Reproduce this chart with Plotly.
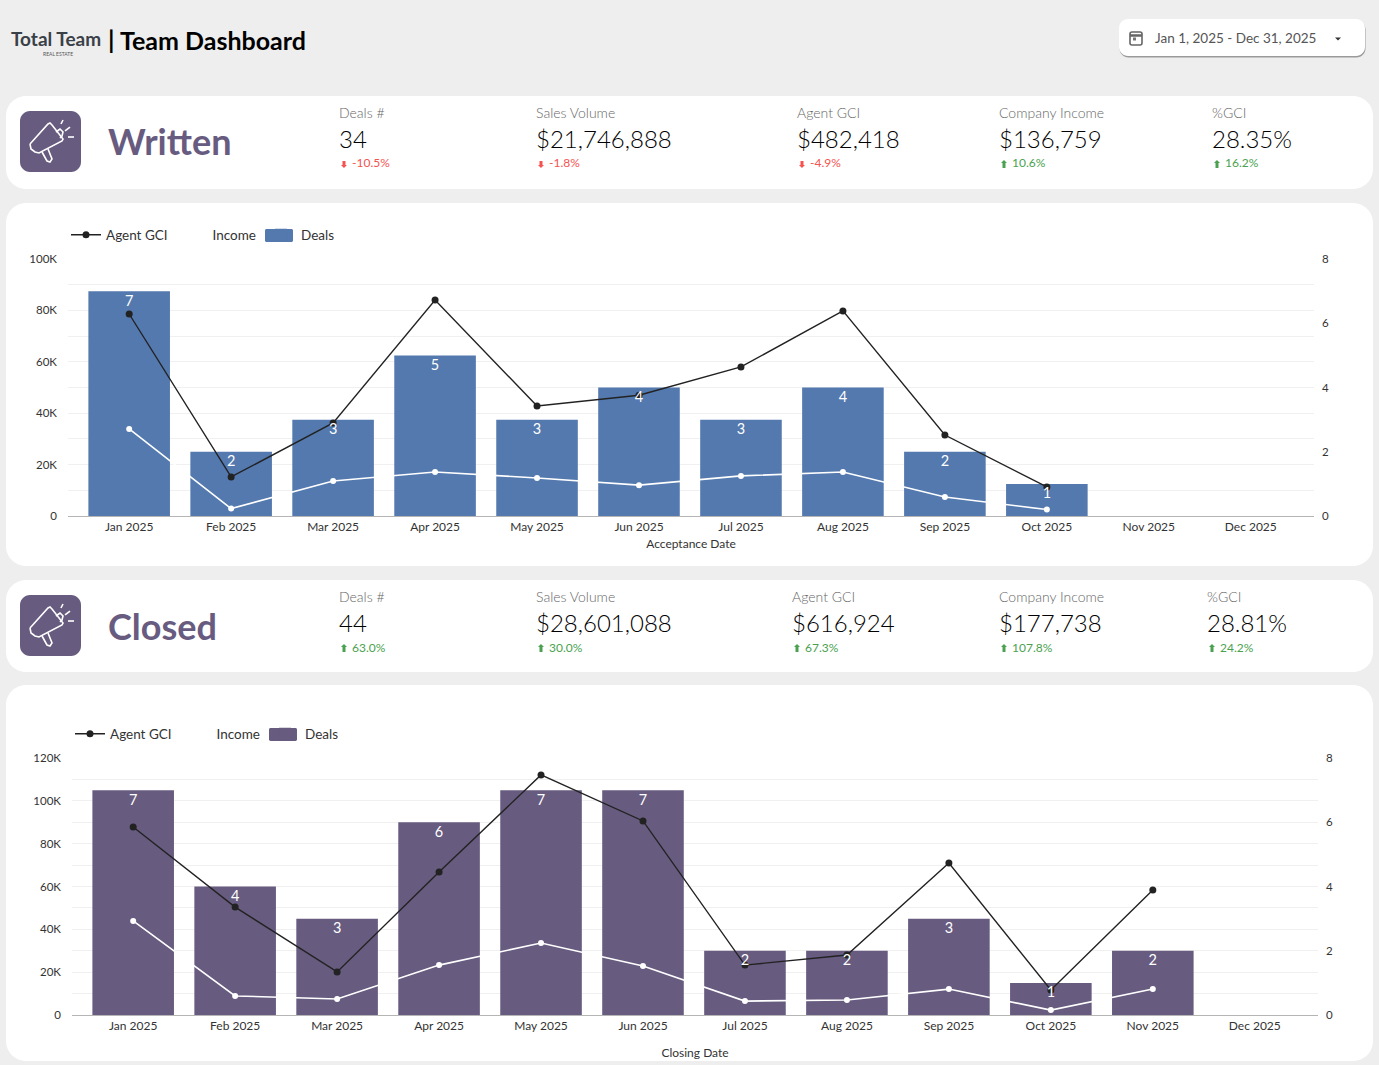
import plotly.graph_objects as go

W, H = 1379, 1065
FONT = "Lato"
BG = "#eeeeee"
PURPLE = "#675b7f"
BLUE = "#5379ae"
DARK = "#222222"

months = ["Jan 2025", "Feb 2025", "Mar 2025", "Apr 2025", "May 2025", "Jun 2025",
          "Jul 2025", "Aug 2025", "Sep 2025", "Oct 2025", "Nov 2025", "Dec 2025"]

written_deals = [7, 2, 3, 5, 3, 4, 3, 4, 2, 1, None, None]
written_gci = [78600, 15200, 36200, 84000, 42800, 47000, 58000, 79800, 31500, 11300, None, None]
written_income = [33900, 2900, 13600, 17100, 14800, 12000, 15600, 17100, 7400, 2500, None, None]

closed_deals = [7, 4, 3, 6, 7, 7, 2, 2, 3, 1, 2, None]
closed_gci = [87800, 50400, 20100, 66800, 112100, 90600, 23300, 28000, 71000, 11700, 58400, None]
closed_income = [43900, 8900, 7500, 23300, 33600, 22900, 6500, 7000, 12100, 2300, 12100, None]

written_ticks = [0, 20000, 40000, 60000, 80000, 100000]
written_ticktext = ["0", "20K", "40K", "60K", "80K", "100K"]
closed_ticks = [0, 20000, 40000, 60000, 80000, 100000, 120000]
closed_ticktext = ["0", "20K", "40K", "60K", "80K", "100K", "120K"]

kpi_labels = ["Deals #", "Sales Volume", "Agent GCI", "Company Income", "%GCI"]
written_kpis = ["34", "$21,746,888", "$482,418", "$136,759", "28.35%"]
written_deltas = ["-10.5%", "-1.8%", "-4.9%", "10.6%", "16.2%"]
closed_kpis = ["44", "$28,601,088", "$616,924", "$177,738", "28.81%"]
closed_deltas = ["63.0%", "30.0%", "67.3%", "107.8%", "24.2%"]


def fx(px):
    return px / W


def fy(py):
    return 1 - py / H


def path(points, close=False):
    s = "M" + " L".join(f"{fx(x):.5f},{fy(y):.5f}" for x, y in points)
    return s + (" Z" if close else "")


def rrect(x0, y0, x1, y1, r):
    k = 0.45 * r
    p = lambda x, y: f"{fx(x):.5f},{fy(y):.5f}"
    return (f"M{p(x0 + r, y0)} L{p(x1 - r, y0)} C{p(x1 - k, y0)} {p(x1, y0 + k)} {p(x1, y0 + r)} "
            f"L{p(x1, y1 - r)} C{p(x1, y1 - k)} {p(x1 - k, y1)} {p(x1 - r, y1)} "
            f"L{p(x0 + r, y1)} C{p(x0 + k, y1)} {p(x0, y1 - k)} {p(x0, y1 - r)} "
            f"L{p(x0, y0 + r)} C{p(x0, y0 + k)} {p(x0 + k, y0)} {p(x0 + r, y0)} Z")


shapes, annotations = [], []


def card(x0, y0, x1, y1, r=20, fill="white"):
    shapes.append(dict(type="path", path=rrect(x0, y0, x1, y1, r), xref="paper", yref="paper",
                       fillcolor=fill, line_width=0, layer="below"))


def text(x, y, s, size, color, anchor="left", weight=None):
    shift = 2 if anchor == "left" else 0
    annotations.append(dict(x=fx(x - shift), y=fy(y), xref="paper", yref="paper", text=s, showarrow=False,
                            xanchor=anchor, yanchor="middle",
                            font=dict(family=FONT, size=size, color=color,
                                      weight=weight if weight else 400)))


def megaphone(ox, oy):
    card(ox, oy, ox + 61, oy + 61, 10, PURPLE)
    stroke = dict(color="white", width=1.6)
    outlines = [
        [(ox + 10, oy + 33), (ox + 28, oy + 13), (ox + 30, oy + 12), (ox + 32, oy + 14), (ox + 43, oy + 28),
         (ox + 42, oy + 30), (ox + 19, oy + 42), (ox + 15, oy + 41), (ox + 11, oy + 38), (ox + 10, oy + 33)],
        [(ox + 22, oy + 41), (ox + 27, oy + 50), (ox + 30, oy + 51), (ox + 32, oy + 48), (ox + 28, oy + 38)],
        [(ox + 36, oy + 21), (ox + 40, oy + 18), (ox + 43, oy + 21), (ox + 42, oy + 25), (ox + 40, oy + 27)],
        [(ox + 43, oy + 9), (ox + 41, oy + 13)],
        [(ox + 50, oy + 16), (ox + 45, oy + 20)],
        [(ox + 48, oy + 26), (ox + 54, oy + 26)],
    ]
    for pts in outlines:
        shapes.append(dict(type="path", path=path(pts), xref="paper", yref="paper", line=stroke))


def kpi_row(xs, label_y, val_y, delta_y, values, deltas):
    for x, lab, val, d in zip(xs, kpi_labels, values, deltas):
        up = not d.startswith("-")
        col = "#4aa250" if up else "#f4534f"
        text(x, label_y, lab, 14, "#666666", weight=300)
        text(x, val_y, val, 24, "#000000", weight=300)
        text(x + 13, delta_y, d, 12, col)
        cx = x + 5
        if up:
            pts = [(cx, delta_y - 3), (cx + 3, delta_y), (cx + 1.5, delta_y), (cx + 1.5, delta_y + 5),
                   (cx - 1.5, delta_y + 5), (cx - 1.5, delta_y), (cx - 3, delta_y)]
        else:
            pts = [(cx, delta_y + 5), (cx + 3, delta_y + 2), (cx + 1.5, delta_y + 2), (cx + 1.5, delta_y - 2),
                   (cx - 1.5, delta_y - 2), (cx - 1.5, delta_y + 2), (cx - 3, delta_y + 2)]
        shapes.append(dict(type="path", path=path(pts, True), xref="paper", yref="paper",
                           fillcolor=col, line_width=0))


# Page background pieces
card(6, 96, 1373, 189)
card(6, 203, 1373, 566)
card(6, 580, 1373, 672)
card(6, 685, 1373, 1061)

# Header
text(11, 39, "Total Team", 19, "#3a4048", weight=700)
text(58, 54, "REAL ESTATE", 5, "#555555", anchor="center")
text(108, 39, "|", 25, "#000000", weight=700)
text(120, 40, "Team Dashboard", 25, "#000000", weight=700)
card(1119.5, 20.5, 1365.5, 57.5, 9, "#9a9a9a")
card(1119, 19, 1365, 56, 9)
text(1155, 38.5, "Jan 1, 2025 - Dec 31, 2025", 13.5, "#555555")
shapes.append(dict(type="path", path=path([(1335, 37.5), (1341, 37.5), (1338, 40.5)], True),
                   xref="paper", yref="paper", fillcolor="#333333", line_width=0))
shapes.append(dict(type="path", path=rrect(1130, 32, 1142, 45, 2), xref="paper", yref="paper",
                   fillcolor="white", line=dict(color="#666666", width=1.6)))
shapes.append(dict(type="path", path=path([(1130, 35.5), (1142, 35.5)]), xref="paper", yref="paper",
                   line=dict(color="#666666", width=2.5)))
shapes.append(dict(type="path", path=path([(1133, 39), (1139, 39)]), xref="paper", yref="paper",
                   line=dict(color="#777777", width=3, dash="dot")))

# KPI cards
megaphone(20, 111)
text(108, 141, "Written", 36, PURPLE, weight=700)
kpi_row([339, 536, 797, 999, 1212], 112, 139, 163, written_kpis, written_deltas)
megaphone(20, 595)
text(108, 626, "Closed", 36, PURPLE, weight=700)
kpi_row([339, 536, 792, 999, 1207], 596, 622, 647, closed_kpis, closed_deltas)

# Wide legend swatches behind the native Deals keys
for (x0, y0, x1, y1, col) in [(265, 229, 293, 242, BLUE), (269, 728, 297, 741, PURPLE)]:
    shapes.append(dict(type="path", path=rrect(x0, y0, x1, y1, 1.5), xref="paper", yref="paper",
                       fillcolor=col, line_width=0))

fig = go.Figure()


def add_chart(n, deals, gci, income, color, legend_name):
    xa = "x" if n == 1 else f"x{n}"
    y_bar = "y" if n == 1 else f"y{n}"
    y_money = f"y1{n}"
    y_label = f"y2{n}"
    fig.add_trace(go.Bar(x=months, y=deals, name="Deals", xaxis=xa, yaxis=y_bar,
                         marker=dict(color=color, line=dict(width=0)), width=0.8,
                         legend=legend_name, legendrank=3))
    fig.add_trace(go.Scatter(x=months, y=gci, name="Agent GCI", xaxis=xa, yaxis=y_money, mode="lines+markers",
                             line=dict(color=DARK, width=1.4), marker=dict(color=DARK, size=7),
                             legend=legend_name, legendrank=1))
    fig.add_trace(go.Scatter(x=months, y=income, name="Income", xaxis=xa, yaxis=y_money, mode="lines+markers",
                             line=dict(color="white", width=1.6), marker=dict(color="white", size=6),
                             legend=legend_name, legendrank=2))
    fig.add_trace(go.Scatter(x=months, y=deals, xaxis=xa, yaxis=y_label, mode="text", text=deals,
                             textposition="bottom center", showlegend=False,
                             textfont=dict(color="white", size=14.5, family=FONT)))


add_chart(1, written_deals, written_gci, written_income, BLUE, "legend")
add_chart(2, closed_deals, closed_gci, closed_income, PURPLE, "legend2")

tickf = dict(family=FONT, size=12, color="#333333")
ytickf = dict(family=FONT, size=11.5, color="#333333")
GRID = "#f0f0f0"
LABEL_DROP = 0.11  # label overlay axis offset, so bar numbers sit just inside the bar top


def axes(n, x0, x1, y_top, y_bottom, y_max, tickvals, ticktext, title, standoff):
    s = "" if n == 1 else str(n)
    xref = f"x{s}"
    dom = [fy(y_bottom), fy(y_top)]
    fig.update_layout({
        f"xaxis{s}": dict(range=[-0.6, 11.62], domain=[fx(x0), fx(x1)], tickfont=tickf, showgrid=False,
                          ticks="", showline=True, linecolor="#b5b5b5", linewidth=1, fixedrange=True,
                          anchor=f"y{s}", ticklabelstandoff=0,
                          title=dict(text=title, font=dict(family=FONT, size=12, color="#333333"),
                                     standoff=standoff)),
        f"yaxis{s}": dict(range=[0, 8], domain=dom, dtick=2, tickfont=ytickf, showgrid=False, zeroline=False,
                          side="right", ticks="", ticklabelstandoff=7, fixedrange=True, anchor=xref),
        f"yaxis1{n}": dict(range=[0, y_max], tickvals=tickvals, ticktext=ticktext, tickfont=ytickf,
                           showgrid=True, gridcolor=GRID, gridwidth=1, zeroline=False, side="left", ticks="",
                           ticklabelstandoff=10, fixedrange=True, anchor=xref, overlaying=f"y{s}",
                           minor=dict(dtick=10000, showgrid=True, gridcolor=GRID, gridwidth=1)),
        f"yaxis2{n}": dict(range=[LABEL_DROP, 8 + LABEL_DROP], visible=False, fixedrange=True, anchor=xref,
                           overlaying=f"y{s}", side="right"),
    })


axes(1, 68, 1314, 259, 516, 100000, written_ticks, written_ticktext, "Acceptance Date", 6)
axes(2, 72, 1318, 758, 1015, 120000, closed_ticks, closed_ticktext, "Closing Date", 16)

legend_common = dict(orientation="h", xanchor="left", yanchor="middle", bgcolor="rgba(0,0,0,0)",
                     font=dict(family=FONT, size=13.5, color="#333333"), itemwidth=30, traceorder="normal")
fig.update_layout(
    width=W, height=H, margin=dict(l=0, r=0, t=0, b=0, autoexpand=False), paper_bgcolor=BG,
    plot_bgcolor="rgba(0,0,0,0)", shapes=shapes, annotations=annotations, barmode="overlay",
    legend=dict(x=fx(66), y=fy(235), **legend_common),
    legend2=dict(x=fx(70), y=fy(734), **legend_common),
)

fig.write_html("out.html", config=dict(displayModeBar=False),
               post_script="document.body.style.margin='0';document.documentElement.style.overflow='hidden';")
